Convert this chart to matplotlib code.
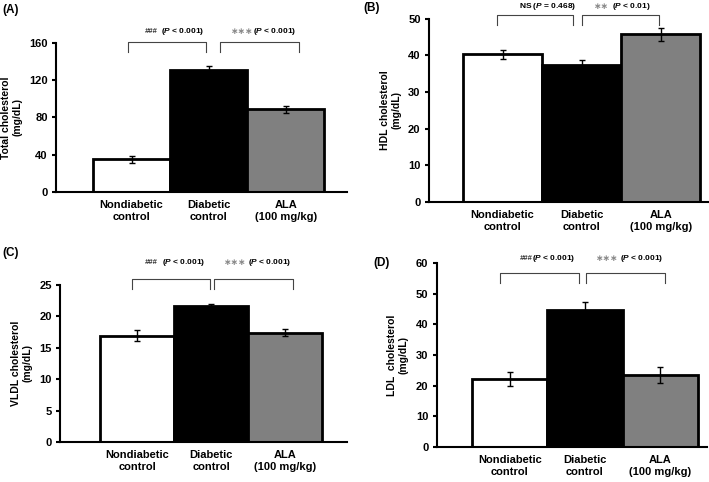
import numpy as np
import matplotlib.pyplot as plt

plt.rcParams['font.family'] = ['Liberation Sans', 'DejaVu Sans']
plt.rcParams['font.weight'] = 'bold'
plt.rcParams['mathtext.fontset'] = 'custom'
plt.rcParams['mathtext.it'] = 'Liberation Sans:bold:italic'
plt.rcParams['mathtext.rm'] = 'Liberation Sans:bold'

groups = ['Nondiabetic\ncontrol', 'Diabetic\ncontrol', 'ALA\n(100 mg/kg)']
colors = ['white', 'black', 'gray']

total_mean = [35, 131, 88.5]
total_err = [3.5, 4, 3.5]
hdl_mean = [40.3, 37.3, 45.8]
hdl_err = [1.3, 1.4, 1.8]
vldl_mean = [16.9, 21.6, 17.4]
vldl_err = [0.9, 0.4, 0.5]
ldl_mean = [22.3, 44.7, 23.6]
ldl_err = [2.3, 2.5, 2.6]

W, H = 709, 482

panels = [
    dict(label='(A)', lpos=(2, 10), ylabel='Total cholesterol\n(mg/dL)',
         mean=total_mean, err=total_err, ymax=160, step=40,
         rect=[0.079, 0.602, 0.410, 0.309], xlim=(-0.98, 2.79),
         brk=(161, 150), lb=(-0.04, 0.97), rb=(1.15, 2.17), ty=172,
         ltxt=('###', 0.17, r'($P$ < 0.001)', 0.38),
         rtxt=('∗∗∗', 1.29, r'($P$ < 0.001)', 1.58)),
    dict(label='(B)', lpos=(363, 8), ylabel='HDL cholesterol\n(mg/dL)',
         mean=hdl_mean, err=hdl_err, ymax=50, step=10,
         rect=[0.605, 0.581, 0.394, 0.380], xlim=(-0.93, 2.60),
         brk=(51.1, 48.4), lb=(-0.07, 0.89), rb=(1.0, 1.98), ty=53.3,
         ltxt=('', 0.21, r'NS ($P$ = 0.468)', 0.21),
         rtxt=('∗∗', 1.16, r'($P$ < 0.01)', 1.38)),
    dict(label='(C)', lpos=(2, 253), ylabel='VLDL cholesterol\n(mg/dL)',
         mean=vldl_mean, err=vldl_err, ymax=25, step=5,
         rect=[0.085, 0.083, 0.404, 0.326], xlim=(-1.04, 2.83),
         brk=(26.0, 24.4), lb=(-0.07, 0.98), rb=(1.04, 2.1), ty=28.6,
         ltxt=('###', 0.10, r'($P$ < 0.001)', 0.33),
         rtxt=('∗∗∗', 1.17, r'($P$ < 0.001)', 1.5)),
    dict(label='(D)', lpos=(373, 263), ylabel='LDL  cholesterol\n(mg/dL)',
         mean=ldl_mean, err=ldl_err, ymax=60, step=10,
         rect=[0.616, 0.073, 0.381, 0.381], xlim=(-0.97, 2.62),
         brk=(56.7, 53.5), lb=(-0.13, 0.92), rb=(1.01, 2.07), ty=61.6,
         ltxt=('###', 0.13, r'($P$ < 0.001)', 0.30),
         rtxt=('∗∗∗', 1.15, r'($P$ < 0.001)', 1.46)),
]

fig = plt.figure(figsize=(W / 100, H / 100), dpi=100)

for p in panels:
    ax = fig.add_axes(p['rect'])
    x = np.arange(3)
    ax.bar(x, p['mean'], width=1.0, color=colors, edgecolor='black', linewidth=2)
    ax.errorbar(x, p['mean'], yerr=p['err'], fmt='none', ecolor='black',
                elinewidth=1, capsize=2, capthick=1)
    ax.set_xlim(*p['xlim'])
    ax.set_ylim(0, p['ymax'])
    ax.set_yticks(np.arange(0, p['ymax'] + 1, p['step']))
    ax.set_xticks(x)
    ax.set_xticklabels(groups, fontsize=8, fontweight='bold')
    ax.tick_params(axis='x', length=0, pad=6)
    ax.tick_params(axis='y', labelsize=8, width=1.5, length=3, pad=3)
    for t in ax.get_yticklabels():
        t.set_fontweight('bold')
    ax.spines['top'].set_visible(False)
    ax.spines['right'].set_visible(False)
    ax.spines['left'].set_linewidth(1.5)
    ax.spines['bottom'].set_linewidth(1.5)
    ax.set_ylabel(p['ylabel'], fontsize=7.5, fontweight='bold', labelpad=5)

    top, bot = p['brk']
    for (x0, x1) in [p['lb'], p['rb']]:
        ax.plot([x0, x0, x1, x1], [bot, top, top, bot], color='#444444',
                lw=0.8, clip_on=False)

    ty = p['ty']
    sym, sx, txt, tx = p['ltxt']
    if sym:
        ax.text(sx, ty, sym, ha='left', va='center', fontsize=5.5,
                color='#333333', fontstyle='italic', clip_on=False)
    ax.text(tx, ty, txt, ha='left', va='center', fontsize=6, clip_on=False)
    sym, sx, txt, tx = p['rtxt']
    ax.text(sx, ty, sym, ha='left', va='center', fontsize=6.5,
            color='#888888', family='DejaVu Sans', clip_on=False)
    ax.text(tx, ty, txt, ha='left', va='center', fontsize=6, clip_on=False)

    lx, ly = p['lpos']
    fig.text(lx / W, 1 - ly / H, p['label'], fontsize=8.5, fontweight='bold',
             va='center', ha='left')

fig.savefig('out.png', dpi=100)
